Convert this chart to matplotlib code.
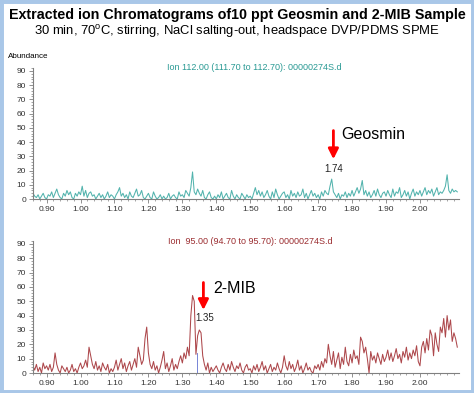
import numpy as np
import matplotlib
matplotlib.use("Agg")
import matplotlib.pyplot as plt
from matplotlib.patches import Rectangle
from matplotlib.ticker import MultipleLocator, FormatStrFormatter

plt.rcParams['font.family'] = ['Liberation Sans', 'DejaVu Sans']
plt.rcParams['mathtext.fontset'] = 'custom'
plt.rcParams['mathtext.rm'] = 'Liberation Sans'

## scan grid (min) ##
t_start = 0.860
t_step = 0.005

## ion 112 trace (geosmin) ##
ion112 = [4, 2, 1, 3, 0, 2, 4, 1, 0, 3, 2, 5, 1, 4, 7, 3, 1, 0, 4, 2, 6, 3, 5, 1, 0, 4, 2, 5,
          3, 9, 2, 6, 1, 4, 5, 2, 3, 0, 2, 4, 1, 3, 0, 2, 5, 1, 3, 2,
          0, 3, 5, 8, 2, 4, 1, 3, 0, 5, 2, 1, 4, 7, 2, 3, 6, 1, 0, 2,
          4, 1, 0, 5, 2, 0, 1, 3, 0, 2, 0, 1, 4, 0, 2, 3, 1, 0, 5, 2,
          3, 1, 6, 4, 2, 8, 19, 5, 3, 7, 4, 2, 6, 1, 0, 3, 5, 1, 0, 2,
          0, 3, 1, 5, 0, 2, 4, 1, 0, 6, 2, 0, 3, 1, 0, 4, 2, 0, 3, 1,
          2, 0, 4, 8, 3, 6, 2, 5, 1, 3, 6, 2, 0, 5, 1, 7, 3, 0, 2, 4,
          5, 1, 3, 0, 6, 2, 4, 1, 5, 2, 3, 7, 1, 4, 0, 3, 6, 2, 4, 1,
          3, 0, 5, 2, 6, 4, 3, 9, 14, 5, 3, 1, 4, 0, 3, 2, 5, 1, 4, 2,
          6, 2, 5, 8, 4, 7, 13, 3, 6, 2, 5, 1, 3, 6, 2, 7, 3, 1, 4, 5,
          2, 6, 3, 1, 7, 2, 5, 4, 8, 1, 3, 6, 2, 5, 0, 4, 7, 2, 5, 3,
          6, 2, 5, 8, 3, 6, 4, 7, 2, 5, 8, 3, 5, 4, 6, 9, 17, 6, 4, 7, 5, 6, 5]

## ion 95 trace (2-MIB) ##
ion95 = [5, 2, 6, 1, 4, 0, 7, 3, 5, 2, 6, 1, 4, 14, 6, 2, 0, 5, 3, 1, 4, 0, 2, 6, 1, 3, 0, 4,
         7, 3, 5, 9, 4, 18, 12, 6, 3, 8, 2, 5, 1, 7, 4, 2, 6, 0, 3, 1,
         4, 9, 2, 6, 10, 3, 7, 1, 5, 8, 2, 6, 10, 4, 18, 12, 6, 9, 24, 32,
         14, 6, 3, 8, 2, 5, 0, 4, 9, 15, 3, 7, 1, 5, 10, 2, 6, 3, 8, 12,
         7, 14, 10, 18, 12, 40, 54, 50, 13, 26, 30, 28, 12, 6, 2, 7, 0, 4, 1, 3,
         5, 2, 0, 4, 7, 3, 1, 6, 2, 8, 4, 1, 5, 3, 7, 2, 0, 4, 6, 2,
         3, 0, 5, 2, 6, 1, 4, 8, 2, 5, 0, 3, 6, 1, 4, 2, 7, 3, 0, 4,
         12, 5, 2, 8, 3, 6, 1, 4, 9, 2, 5, 0, 3, 7, 2, 4, 1, 0, 5, 3,
         6, 2, 8, 4, 10, 7, 20, 12, 6, 15, 4, 9, 14, 3, 11, 6, 18, 8, 5, 13,
         7, 16, 10, 12, 6, 25, 22, 14, 18, 10, 0, 15, 9, 12, 7, 14, 10, 6, 13, 8,
         11, 16, 9, 14, 8, 12, 17, 10, 13, 7, 15, 11, 18, 9, 14, 10, 16, 12, 19, 8,
         5, 18, 22, 14, 24, 16, 30, 26, 12, 28, 20, 15, 32, 28, 38, 25, 40, 30, 37, 22, 28, 24, 18]

t = np.round(t_start + t_step * np.arange(len(ion112)), 3)

fig = plt.figure(figsize=(4.74, 3.93), dpi=100)
fig.patches.append(Rectangle((0, 0), 1, 1, transform=fig.transFigure, fill=False,
                             edgecolor='#a9c7e8', lw=5, zorder=10))

fig.text(0.5, 1 - 15/393, 'Extracted ion Chromatograms of10 ppt Geosmin and 2-MIB Sample',
         ha='center', va='center', fontsize=10.3, fontweight='bold')
fig.text(0.5, 1 - 32/393, r'30 min, 70$^{\mathrm{o}}$C, stirring, NaCl salting-out, headspace DVP/PDMS SPME',
         ha='center', va='center', fontsize=9.4)
fig.text(8/474, 1 - 57/393, 'Abundance', ha='left', va='center', fontsize=5.8)


def style(ax):
    for s in ['top', 'right']:
        ax.spines[s].set_visible(False)
    for s in ['left', 'bottom']:
        ax.spines[s].set_color('#808080')
        ax.spines[s].set_linewidth(0.8)
    ax.set_xlim(0.86, 2.115)
    ax.set_ylim(0, 92)
    ax.xaxis.set_major_locator(MultipleLocator(0.1))
    ax.xaxis.set_minor_locator(MultipleLocator(0.02))
    ax.xaxis.set_major_formatter(FormatStrFormatter('%.2f'))
    ax.yaxis.set_major_locator(MultipleLocator(10))
    ax.yaxis.set_minor_locator(MultipleLocator(2))
    ax.tick_params(which='both', colors='#808080', labelcolor='#333333', labelsize=6)
    ax.tick_params(which='major', length=3, width=0.6, pad=2)
    ax.tick_params(which='minor', length=1.5, width=0.5)
    ax.set_xticks([0.9, 1.0, 1.1, 1.2, 1.3, 1.4, 1.5, 1.6, 1.7, 1.8, 1.9, 2.0])


## top panel: ion 112 ##
ax1 = fig.add_axes([33/474, 1 - 199/393, 426/474, 131/393])
ax1.plot(t, ion112, color='#52b3ad', lw=0.75)
ax1.plot([1.740, 1.752], [0.3, 0.3], color='#6070d0', lw=0.5)
style(ax1)
ax1.text(0.52, 1.0, 'Ion 112.00 (111.70 to 112.70): 00000274S.d', transform=ax1.transAxes,
         ha='center', va='center', fontsize=6.5, color='#2a9a94')
ax1.annotate('', xy=(1.745, 26), xytext=(1.745, 50),
             arrowprops=dict(arrowstyle='-|>,head_width=0.3,head_length=0.6', color='red', lw=2))
ax1.text(1.768, 45, 'Geosmin', fontsize=11.5, ha='left', va='center')
ax1.text(1.745, 21, '1.74', fontsize=7, ha='center', va='center', color='#222222')

## bottom panel: ion 95 ##
ax2 = fig.add_axes([33/474, 1 - 373/393, 426/474, 132/393])
ax2.plot(t, ion95, color='#ad474b', lw=0.75)
ax2.plot([1.344, 1.344], [0, 14], color='#6070d0', lw=0.6)
ax2.plot([1.344, 1.372], [0.3, 0.3], color='#6070d0', lw=0.6)
style(ax2)
ax2.text(0.51, 1.0, 'Ion  95.00 (94.70 to 95.70): 00000274S.d', transform=ax2.transAxes,
         ha='center', va='center', fontsize=6.5, color='#9b2d30')
ax2.annotate('', xy=(1.362, 42), xytext=(1.362, 65),
             arrowprops=dict(arrowstyle='-|>,head_width=0.3,head_length=0.6', color='red', lw=2))
ax2.text(1.392, 59, '2-MIB', fontsize=11.5, ha='left', va='center')
ax2.text(1.365, 38, '1.35', fontsize=7, ha='center', va='center', color='#222222')

fig.savefig('out.png', dpi=100)
